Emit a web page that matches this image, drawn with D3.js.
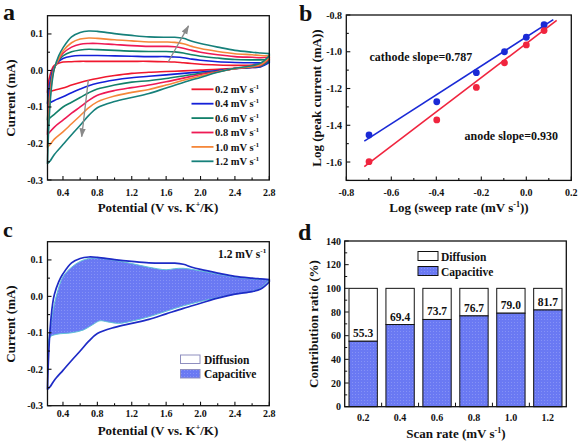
<!DOCTYPE html>
<html><head><meta charset="utf-8">
<script src="https://cdn.jsdelivr.net/npm/d3@7"></script>
<style>body{margin:0;background:#fff}svg{display:block}text{font-family:"Liberation Serif","Times New Roman",serif;font-weight:bold;fill:#111}</style>
</head><body><svg id="c" width="578" height="444"></svg>
<script>
// ---------- Panel a : CV curves ----------
const rates = ["0.2","0.4","0.6","0.8","1.0","1.2"];
const rateColors = ["#f0182e","#1420d8","#12806a","#ee1a55","#f5873a","#16807a"];
const anodicX = [0.22,0.23,0.25,0.28,0.3,0.35,0.4,0.5,0.6,0.7,0.8,1.0,1.2,1.4,1.6,1.7,1.8,1.9,2.0,2.2,2.4,2.6,2.7,2.8];
const anodic02 = [-0.06,-0.035,-0.012,0.008,0.014,0.02,0.023,0.024,0.025,0.025,0.025,0.025,0.025,0.025,0.024,0.023,0.021,0.019,0.017,0.015,0.014,0.015,0.018,0.03];
const anodic04 = [-0.09,-0.065,-0.03,0.0,0.01,0.025,0.033,0.039,0.041,0.041,0.041,0.04,0.039,0.038,0.038,0.037,0.035,0.031,0.028,0.024,0.022,0.021,0.021,0.025];
const anodic06 = [-0.135,-0.1,-0.045,-0.005,0.008,0.027,0.04,0.051,0.056,0.058,0.057,0.055,0.053,0.052,0.052,0.051,0.048,0.043,0.039,0.034,0.03,0.029,0.029,0.03];
const anodic08 = [-0.175,-0.125,-0.06,-0.01,0.007,0.03,0.047,0.064,0.072,0.074,0.074,0.071,0.068,0.066,0.066,0.065,0.061,0.055,0.05,0.043,0.038,0.036,0.035,0.036];
const anodic10 = [-0.21,-0.15,-0.075,-0.015,0.006,0.032,0.053,0.076,0.086,0.089,0.088,0.084,0.081,0.078,0.078,0.077,0.073,0.066,0.06,0.052,0.046,0.043,0.041,0.04];
const anodic12 = [-0.255,-0.18,-0.09,-0.02,0.005,0.04,0.062,0.092,0.104,0.108,0.107,0.101,0.096,0.092,0.091,0.091,0.088,0.08,0.074,0.064,0.055,0.05,0.048,0.046];
const cathodicX = [0.22,0.25,0.3,0.4,0.5,0.6,0.7,0.8,1.0,1.2,1.4,1.6,1.8,2.0,2.2,2.4,2.6,2.7,2.8];
const cathodic02 = [-0.06,-0.058,-0.054,-0.048,-0.04,-0.033,-0.027,-0.022,-0.014,-0.008,-0.005,-0.003,-0.001,0.001,0.003,0.006,0.008,0.01,0.028];
const cathodic04 = [-0.09,-0.088,-0.082,-0.072,-0.061,-0.051,-0.042,-0.035,-0.026,-0.02,-0.016,-0.012,-0.008,-0.004,0.0,0.005,0.008,0.01,0.022];
const cathodic06 = [-0.135,-0.13,-0.12,-0.1,-0.087,-0.074,-0.061,-0.051,-0.04,-0.032,-0.028,-0.022,-0.015,-0.008,-0.002,0.005,0.009,0.012,0.027];
const cathodic08 = [-0.175,-0.168,-0.155,-0.136,-0.117,-0.1,-0.082,-0.068,-0.055,-0.047,-0.04,-0.031,-0.021,-0.011,-0.003,0.005,0.01,0.014,0.032];
const cathodic10 = [-0.21,-0.203,-0.188,-0.168,-0.146,-0.124,-0.102,-0.086,-0.07,-0.06,-0.052,-0.04,-0.027,-0.015,-0.004,0.005,0.011,0.016,0.035];
const cathodic12 = [-0.255,-0.248,-0.23,-0.203,-0.176,-0.15,-0.123,-0.102,-0.085,-0.074,-0.063,-0.048,-0.033,-0.019,-0.005,0.006,0.013,0.02,0.04];
const anodicSets = [anodic02,anodic04,anodic06,anodic08,anodic10,anodic12];
const cathodicSets = [cathodic02,cathodic04,cathodic06,cathodic08,cathodic10,cathodic12];
const cvXTicks = [0.4,0.8,1.2,1.6,2.0,2.4,2.8];
const cvXMinor = [0.6,1.0,1.4,1.8,2.2,2.6];
const cvYTicks = [-0.3,-0.2,-0.1,0.0,0.1];
const cvYMinor = [-0.25,-0.15,-0.05,0.05];
// arrows (data coords): [x1,y1,x2,y2]
const arrowUp = [1.625,0.024,1.86,0.122];
const arrowDown = [0.695,-0.026,0.618,-0.181];

// ---------- Panel b : log-log ----------
const logRate = [-0.699,-0.398,-0.222,-0.097,0.0,0.079];
const logCathode = [-1.453,-1.272,-1.114,-1.0,-0.921,-0.853];
const logAnode = [-1.598,-1.371,-1.194,-1.06,-0.963,-0.885];
const cathodeFit = {slope:0.787, intercept:-0.92, x0:-0.72, x1:0.12};
const anodeFit = {slope:0.930, intercept:-0.955, x0:-0.72, x1:0.135};
const bXTicks = [-0.8,-0.6,-0.4,-0.2,0.0,0.2];
const bXMinor = [-0.7,-0.5,-0.3,-0.1,0.1];
const bYTicks = [-1.6,-1.4,-1.2,-1.0,-0.8];
const bYMinor = [-1.7,-1.5,-1.3,-1.1,-0.9];

// ---------- Panel c : capacitive separation at 1.2 mV/s ----------
const capUpX = [0.22,0.24,0.27,0.3,0.33,0.4,0.5,0.6,0.7,0.8,1.0,1.2,1.4,1.6,1.7,1.8,2.0,2.2,2.4,2.6,2.8];
const capUp = [-0.15,-0.11,-0.06,-0.02,0.008,0.054,0.08,0.096,0.104,0.105,0.099,0.09,0.08,0.073,0.076,0.077,0.07,0.061,0.053,0.048,0.045];
const capLowX = [0.22,0.25,0.33,0.5,0.64,0.75,0.83,0.92,1.05,1.2,1.4,1.6,1.8,2.0,2.2,2.4,2.6,2.7,2.8];
const capLow = [-0.15,-0.112,-0.104,-0.1,-0.092,-0.077,-0.067,-0.07,-0.074,-0.068,-0.056,-0.041,-0.026,-0.014,-0.003,0.006,0.014,0.023,0.045];

// ---------- Panel d : contribution bars ----------
const scanRates = ["0.2","0.4","0.6","0.8","1.0","1.2"];
const capacitive = [55.3,69.4,73.7,76.7,79.0,81.7];
const dYTicks = [0,20,40,60,80,100,120,140];
const dYMinor = [10,30,50,70,90,110,130];

const svg = d3.select("#c");
const defs = svg.append("defs");
const pat = defs.append("pattern").attr("id","dots").attr("width",3).attr("height",3).attr("patternUnits","userSpaceOnUse");
pat.append("rect").attr("width",3).attr("height",3).attr("fill","#6a79f3");
pat.append("rect").attr("x",1).attr("y",1).attr("width",1).attr("height",1).attr("fill","#8592f6");
defs.append("marker").attr("id","ah").attr("viewBox","0 0 10 10").attr("refX",9).attr("refY",5)
  .attr("markerWidth",7).attr("markerHeight",7).attr("orient","auto")
  .append("path").attr("d","M0,1.5L10,5L0,8.5Z").attr("fill","#8a8a8a");

const fmt1 = v => v.toFixed(1);
function frame(g, x0, x1, y0, y1){
  g.append("rect").attr("x",x0).attr("y",y1).attr("width",x1-x0).attr("height",y0-y1)
   .attr("fill","none").attr("stroke","#111").attr("stroke-width",1.3);
}
function ticks(g, xs, ys, xT, xM, yT, yM, fx, fy, xLabY, yLabX){
  const [X0,X1]=xs.range(), [Y0,Y1]=ys.range();
  xT.forEach(v=>{g.append("line").attr("x1",xs(v)).attr("x2",xs(v)).attr("y1",Y0).attr("y2",Y0-4).attr("stroke","#111").attr("stroke-width",1.1);
    g.append("text").attr("x",xs(v)).attr("y",xLabY).attr("text-anchor","middle").attr("font-size",10).text(fx(v));});
  xM.forEach(v=>g.append("line").attr("x1",xs(v)).attr("x2",xs(v)).attr("y1",Y0).attr("y2",Y0-2.5).attr("stroke","#111").attr("stroke-width",1.1));
  yT.forEach(v=>{g.append("line").attr("x1",X0).attr("x2",X0+4).attr("y1",ys(v)).attr("y2",ys(v)).attr("stroke","#111").attr("stroke-width",1.1);
    g.append("text").attr("x",yLabX).attr("y",ys(v)+3.5).attr("text-anchor","end").attr("font-size",10).text(fy(v));});
  yM.forEach(v=>g.append("line").attr("x1",X0).attr("x2",X0+2.5).attr("y1",ys(v)).attr("y2",ys(v)).attr("stroke","#111").attr("stroke-width",1.1));
}
function supText(g, x, y, size, parts, anchor, rotate){
  const t = g.append("text").attr("x",x).attr("y",y).attr("font-size",size).attr("text-anchor",anchor||"middle");
  if(rotate) t.attr("transform",`rotate(-90,${x},${y})`);
  let pending = 0;
  parts.forEach(p=>{
    if(p.sup){ t.append("tspan").attr("font-size",size*0.62).attr("dy",-size*0.38).text(p.sup); pending = size*0.38; }
    else { const s = t.append("tspan").text(p.t); if(pending){ s.attr("dy",pending); pending=0; } }
  });
  return t;
}
function loopPath(xs, ys, upX, up, lowX, low){
  const pts = upX.map((x,i)=>[xs(x),ys(up[i])]);
  for(let i=lowX.length-1;i>=0;i--) pts.push([xs(lowX[i]),ys(low[i])]);
  return d3.line().curve(d3.curveMonotoneX)(pts.slice(0,upX.length)) ;
}
function closedLoop(xs, ys, upX, up, lowX, low){
  const top = d3.line().curve(d3.curveCatmullRom.alpha(0.5))(upX.map((x,i)=>[xs(x),ys(up[i])]));
  const botPts = []; for(let i=lowX.length-1;i>=0;i--) botPts.push([xs(lowX[i]),ys(low[i])]);
  const bot = d3.line().curve(d3.curveCatmullRom.alpha(0.5))(botPts);
  return top + "L" + bot.slice(1) + "Z";
}

// ===== Panel a =====
{
  const g = svg.append("g");
  const x = d3.scaleLinear().domain([0.22,2.8]).range([47.5,269.3]);
  const y = d3.scaleLinear().domain([-0.3,0.15]).range([180,15.7]);
  for(let i=0;i<6;i++){
    g.append("path").attr("d",closedLoop(x,y,anodicX,anodicSets[i],cathodicX,cathodicSets[i]))
     .attr("fill","none").attr("stroke",rateColors[i]).attr("stroke-width",1.6).attr("stroke-linejoin","round");
  }
  [arrowUp,arrowDown].forEach(a=>g.append("line").attr("x1",x(a[0])).attr("y1",y(a[1])).attr("x2",x(a[2])).attr("y2",y(a[3]))
     .attr("stroke","#8a8a8a").attr("stroke-width",1.3).attr("marker-end","url(#ah)"));
  frame(g,47.5,269.3,180,15.7);
  ticks(g,x,y,cvXTicks,cvXMinor,cvYTicks,cvYMinor,fmt1,fmt1,196,43);
  rates.forEach((r,i)=>{
    const yy = 89.3+14.4*i;
    g.append("line").attr("x1",191.5).attr("x2",213.5).attr("y1",yy).attr("y2",yy).attr("stroke",rateColors[i]).attr("stroke-width",1.8);
    supText(g,215,yy+3.7,10.5,[{t:r+" mV s"},{sup:"-1"}],"start");
  });
  supText(g,158,211.5,13,[{t:"Potential (V vs. K"},{sup:"+"},{t:"/K)"}]);
  supText(g,15,98,13,[{t:"Current (mA)"}],"middle",true);
  g.append("text").attr("x",3).attr("y",20).attr("font-size",24).text("a");
}

// ===== Panel b =====
{
  const g = svg.append("g");
  const x = d3.scaleLinear().domain([-0.8,0.2]).range([346.3,571.3]);
  const y = d3.scaleLinear().domain([-1.7,-0.8]).range([180.4,15]);
  [[cathodeFit,"#1a2ad6"],[anodeFit,"#f0243e"]].forEach(([f,c])=>{
    g.append("line").attr("x1",x(f.x0)).attr("y1",y(f.slope*f.x0+f.intercept)).attr("x2",x(f.x1)).attr("y2",y(f.slope*f.x1+f.intercept))
     .attr("stroke",c).attr("stroke-width",1.6);
  });
  g.selectAll(".pc").data(logRate).join("circle").attr("cx",d=>x(d)).attr("cy",(d,i)=>y(logCathode[i])).attr("r",3.4).attr("fill","#1a2ad6");
  g.selectAll(".pa").data(logRate).join("circle").attr("cx",d=>x(d)).attr("cy",(d,i)=>y(logAnode[i])).attr("r",3.4).attr("fill","#f0243e");
  frame(g,346.3,571.3,180.4,15);
  ticks(g,x,y,bXTicks,bXMinor,bYTicks,bYMinor,fmt1,fmt1,196,342);
  g.append("text").attr("x",369.5).attr("y",60.5).attr("font-size",12).text("cathode slope=0.787");
  g.append("text").attr("x",464.5).attr("y",139.5).attr("font-size",12).text("anode slope=0.930");
  supText(g,459,212,13,[{t:"Log (sweep rate (mV s"},{sup:"-1"},{t:"))"}]);
  supText(g,321,98,13,[{t:"Log (peak current (mA))"}],"middle",true);
  g.append("text").attr("x",299).attr("y",21).attr("font-size",24).text("b");
}

// ===== Panel c =====
{
  const g = svg.append("g");
  const x = d3.scaleLinear().domain([0.22,2.8]).range([47.5,269.3]);
  const y = d3.scaleLinear().domain([-0.3,0.15]).range([405.7,241.7]);
  g.append("path").attr("d",closedLoop(x,y,capUpX,capUp,capLowX,capLow)).attr("fill","url(#dots)").attr("stroke","#5fc3d6").attr("stroke-width",1);
  g.append("path").attr("d",closedLoop(x,y,anodicX,anodic12,cathodicX,cathodic12))
   .attr("fill","none").attr("stroke","#1e2bc6").attr("stroke-width",1.7).attr("stroke-linejoin","round");
  frame(g,47.5,269.3,405.7,241.7);
  ticks(g,x,y,cvXTicks,cvXMinor,cvYTicks,cvYMinor,fmt1,fmt1,417,43);
  g.append("rect").attr("x",180.5).attr("y",355).attr("width",19.5).attr("height",8.5).attr("fill","#fff").attr("stroke","#8f8fbf").attr("stroke-width",1);
  g.append("rect").attr("x",180.5).attr("y",369.5).attr("width",19.5).attr("height",8.5).attr("fill","url(#dots)").attr("stroke","#8f8fbf").attr("stroke-width",1);
  g.append("text").attr("x",204).attr("y",363.5).attr("font-size",11.5).text("Diffusion");
  g.append("text").attr("x",204).attr("y",378).attr("font-size",11.5).text("Capacitive");
  supText(g,218,257.5,11.5,[{t:"1.2 mV s"},{sup:"-1"}],"start");
  supText(g,158,434.5,13,[{t:"Potential (V vs. K"},{sup:"+"},{t:"/K)"}]);
  supText(g,15,324,13,[{t:"Current (mA)"}],"middle",true);
  g.append("text").attr("x",3).attr("y",237).attr("font-family","Liberation Sans, Arial, sans-serif").attr("font-size",22).text("c");
}

// ===== Panel d =====
{
  const g = svg.append("g");
  const x = d3.scaleBand().domain(scanRates).range([344.7,566.3]).paddingInner(0.233).paddingOuter(0.1165);
  const y = d3.scaleLinear().domain([0,140]).range([406.7,241]);
  g.selectAll(".dif").data(scanRates).join("rect").attr("x",d=>x(d)).attr("width",x.bandwidth())
    .attr("y",y(100)).attr("height",(d,i)=>y(capacitive[i])-y(100)).attr("fill","#fff").attr("stroke","#111").attr("stroke-width",1);
  g.selectAll(".cap").data(scanRates).join("rect").attr("x",d=>x(d)).attr("width",x.bandwidth())
    .attr("y",(d,i)=>y(capacitive[i])).attr("height",(d,i)=>y(0)-y(capacitive[i])).attr("fill","url(#dots)").attr("stroke","#111").attr("stroke-width",1);
  g.selectAll(".lab").data(scanRates).join("text").attr("x",d=>x(d)+x.bandwidth()/2).attr("y",(d,i)=>y(capacitive[i])-4)
    .attr("text-anchor","middle").attr("font-size",11.5).text((d,i)=>capacitive[i].toFixed(1));
  frame(g,344.7,566.3,406.7,241);
  dYTicks.forEach(v=>{g.append("line").attr("x1",344.7).attr("x2",348.7).attr("y1",y(v)).attr("y2",y(v)).attr("stroke","#111");
    g.append("text").attr("x",341).attr("y",y(v)+3.5).attr("text-anchor","end").attr("font-size",10).text(v);});
  dYMinor.forEach(v=>g.append("line").attr("x1",344.7).attr("x2",347.2).attr("y1",y(v)).attr("y2",y(v)).attr("stroke","#111"));
  scanRates.forEach((d,i)=>{
    g.append("text").attr("x",x(d)+x.bandwidth()/2).attr("y",420.5).attr("text-anchor","middle").attr("font-size",10).text(d);
    if(i>0){ const bx = x(d)-x.step()*x.paddingInner()/2;
      g.append("line").attr("x1",bx).attr("x2",bx).attr("y1",406.7).attr("y2",402.7).attr("stroke","#111"); }
  });
  g.append("rect").attr("x",418).attr("y",251.5).attr("width",20).attr("height",9).attr("fill","#fff").attr("stroke","#111");
  g.append("rect").attr("x",418).attr("y",266.5).attr("width",20).attr("height",9).attr("fill","url(#dots)").attr("stroke","#111");
  g.append("text").attr("x",441).attr("y",260.5).attr("font-size",11.5).text("Diffusion");
  g.append("text").attr("x",441).attr("y",275.5).attr("font-size",11.5).text("Capacitive");
  supText(g,456,437.5,13,[{t:"Scan rate (mV s"},{sup:"-1"},{t:")"}]);
  supText(g,318,324,13,[{t:"Contribution ratio (%)"}],"middle",true);
  g.append("text").attr("x",298).attr("y",240).attr("font-size",24).text("d");
}
</script></body></html>
